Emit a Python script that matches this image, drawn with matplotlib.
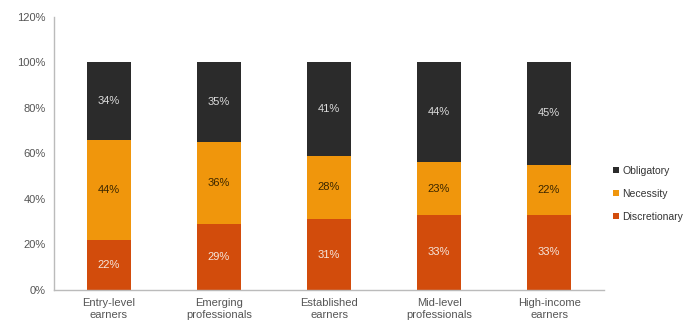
import matplotlib.pyplot as plt
import numpy as np

plt.rcParams['font.family'] = ['Liberation Sans', 'DejaVu Sans']

categories = ["Entry-level\nearners", "Emerging\nprofessionals", "Established\nearners",
              "Mid-level\nprofessionals", "High-income\nearners"]
discretionary = [22, 29, 31, 33, 33]
necessity = [44, 36, 28, 23, 22]
obligatory = [34, 35, 41, 44, 45]
yticks = [0, 20, 40, 60, 80, 100, 120]

c_obl = "#2b2b2b"
c_nec = "#f0960c"
c_dis = "#d24c0c"

fig = plt.figure(figsize=(7, 3.31), dpi=100)
ax = fig.add_axes([0.077, 0.124, 0.786, 0.826])
x = np.arange(len(categories))
w = 0.4
b1 = ax.bar(x, discretionary, w, color=c_dis, label="Discretionary")
b2 = ax.bar(x, necessity, w, bottom=discretionary, color=c_nec, label="Necessity")
bot3 = np.array(discretionary) + np.array(necessity)
b3 = ax.bar(x, obligatory, w, bottom=bot3, color=c_obl, label="Obligatory")

for i in range(len(categories)):
    ax.text(x[i], discretionary[i] / 2, f"{discretionary[i]}%", ha="center", va="center",
            color="#f5e6dc", fontsize=8)
    ax.text(x[i], discretionary[i] + necessity[i] / 2, f"{necessity[i]}%", ha="center", va="center",
            color="#3a2600", fontsize=8)
    ax.text(x[i], bot3[i] + obligatory[i] / 2, f"{obligatory[i]}%", ha="center", va="center",
            color="#dcdcdc", fontsize=8)

ax.set_xlim(-0.5, 4.5)
ax.set_ylim(0, 120)
ax.set_yticks(yticks)
ax.set_yticklabels([f"{v}%" for v in yticks])
ax.set_xticks(x)
ax.set_xticklabels(categories)
ax.tick_params(axis="both", length=0, labelsize=8, colors="#555555", pad=6)
for s in ["top", "right"]:
    ax.spines[s].set_visible(False)
for s in ["left", "bottom"]:
    ax.spines[s].set_color("#bbbbbb")
    ax.spines[s].set_linewidth(1)

handles = [b3, b2, b1]
leg = fig.legend(handles, ["Obligatory", "Necessity", "Discretionary"],
                 loc="center left", bbox_to_anchor=(0.863, 0.414), frameon=False,
                 fontsize=7.5, handlelength=0.5, handleheight=0.5, handletextpad=0.35,
                 labelspacing=1.25)
for t in leg.get_texts():
    t.set_color("#333333")

fig.savefig("out.png", dpi=100, facecolor="white")
